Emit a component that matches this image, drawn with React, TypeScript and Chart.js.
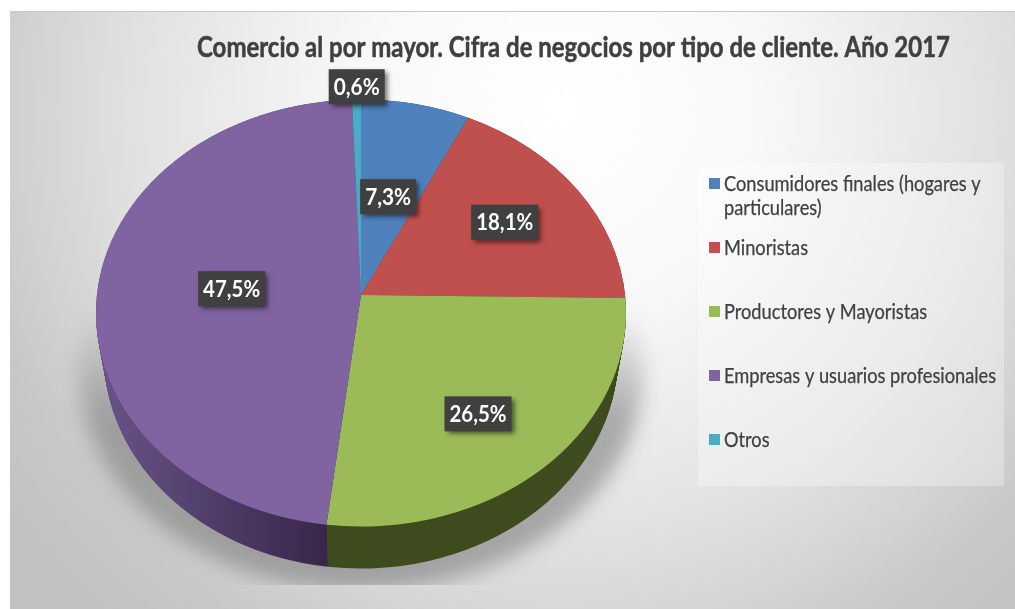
import React, { useEffect, useRef } from "react";
import { Chart, registerables } from "chart.js";

Chart.register(...registerables);

const titleText = "Comercio al por mayor. Cifra de negocios por tipo de cliente. Año 2017";
const categories = [
  "Consumidores finales (hogares y particulares)",
  "Minoristas",
  "Productores y Mayoristas",
  "Empresas y usuarios profesionales",
  "Otros",
];
const legendLines = [
  ["Consumidores finales (hogares y", "particulares)"],
  ["Minoristas"],
  ["Productores y Mayoristas"],
  ["Empresas y usuarios profesionales"],
  ["Otros"],
];
const values = [7.3, 18.1, 26.5, 47.5, 0.6];
const valueLabels = ["7,3%", "18,1%", "26,5%", "47,5%", "0,6%"];
const colors = ["#4F81BD", "#C0504D", "#9BBB59", "#8064A2", "#4BACC6"];
const wallColors = ["#2a4563", "#652b29", "#3f4c1f", "#4a3760", "#28606e"];
const labelFraction = [0.55, 0.66, 0.6, 0.5, 1.06];
const labelNudgeX = [-6, -6, 13, 3, 1];
const labelNudgeY = [-2, -18, 4, -20, 0];

const FONT = "Lato, Carlito, sans-serif";
const squash = 213.5 / 265;
const apexLift = 18;
const wallDepth = 42;
const wallInset = 8;
const perspectiveWarp = (5.5 * Math.PI) / 180;

// foreshortening of the tilted disc: angle on the ellipse for a library arc angle
const warp = (a: number) => a - perspectiveWarp * Math.cos(a);

const scene = {
  id: "scene",
  beforeDraw(chart: any) {
    const { ctx, width, height } = chart;
    ctx.save();
    ctx.fillStyle = "#ffffff";
    ctx.fillRect(0, 0, width, height);
    const g = ctx.createRadialGradient(560, 110, 0, 560, 110, 680);
    g.addColorStop(0, "#ffffff");
    g.addColorStop(0.3, "#f8f8f8");
    g.addColorStop(0.62, "#e2e2e2");
    g.addColorStop(0.75, "#d6d6d6");
    g.addColorStop(0.88, "#c8c8c8");
    g.addColorStop(1, "#c2c2c2");
    ctx.fillStyle = g;
    ctx.fillRect(10, 11, width - 10, height - 11);
    ctx.strokeStyle = "#c9c9c9";
    ctx.lineWidth = 1;
    ctx.beginPath();
    ctx.moveTo(10, 11.5);
    ctx.lineTo(width, 11.5);
    ctx.stroke();
    // legend panel
    ctx.fillStyle = "rgba(255,255,255,0.3)";
    ctx.fillRect(698, 163, 306, 323);
    ctx.restore();
  },
  beforeDatasetsDraw(chart: any) {
    const { ctx } = chart;
    const arcs = chart.getDatasetMeta(0).data;
    const cx = arcs[0].x;
    const cy = arcs[0].y;
    const rx = arcs[0].outerRadius;
    const ry = rx * squash;
    // soft cast shadow
    ctx.save();
    ctx.beginPath();
    ctx.rect(0, 200, 1015, 385);
    ctx.clip();
    const fade = ctx.createLinearGradient(0, 310, 0, 420);
    fade.addColorStop(0, "rgba(125,125,125,0)");
    fade.addColorStop(1, "rgba(125,125,125,0.6)");
    ctx.filter = "blur(10px)";
    ctx.fillStyle = fade;
    ctx.beginPath();
    ctx.ellipse(cx, cy + 58, rx + 17, ry + 6, 0, 0, Math.PI * 2);
    ctx.fill();
    ctx.restore();
    // side wall
    const purpleWall = ctx.createLinearGradient(100, 0, 326, 0);
    purpleWall.addColorStop(0, "#6a5288");
    purpleWall.addColorStop(0.45, "#52406c");
    purpleWall.addColorStop(1, "#38264a");
    ctx.save();
    for (let s = wallDepth; s >= 0; s -= 1) {
      const t = s / wallDepth;
      arcs.forEach((arc: any, i: number) => {
        ctx.fillStyle = i === 3 ? purpleWall : wallColors[i];
        ctx.beginPath();
        ctx.moveTo(cx, cy + s);
        ctx.ellipse(cx, cy + s, rx - wallInset * t, ry, 0, warp(arc.startAngle), warp(arc.endAngle));
        ctx.closePath();
        ctx.fill();
      });
    }
    // top face, with the perspective apex
    arcs.forEach((arc: any) => {
      ctx.fillStyle = arc.options.backgroundColor;
      ctx.beginPath();
      ctx.moveTo(cx, cy - apexLift);
      ctx.ellipse(cx, cy, rx, ry, 0, warp(arc.startAngle), warp(arc.endAngle));
      ctx.closePath();
      ctx.fill();
    });
    ctx.restore();
  },
  beforeDatasetDraw() {
    return false;
  },
  afterDatasetsDraw(chart: any) {
    const { ctx } = chart;
    const arcs = chart.getDatasetMeta(0).data;
    ctx.save();
    // data labels
    ctx.textBaseline = "middle";
    ctx.textAlign = "center";
    ctx.font = `bold 22px ${FONT}`;
    arcs.forEach((arc: any, i: number) => {
      const mid = (arc.startAngle + arc.endAngle) / 2;
      const f = labelFraction[i];
      const x = arc.x + Math.cos(mid) * arc.outerRadius * f + labelNudgeX[i];
      const y = arc.y + Math.sin(mid) * arc.outerRadius * squash * f + labelNudgeY[i];
      const w = valueLabels[i].length === 4 ? 56 : 67;
      ctx.save();
      ctx.shadowColor = "rgba(0,0,0,0.55)";
      ctx.shadowBlur = 5;
      ctx.shadowOffsetX = 3;
      ctx.shadowOffsetY = 3;
      ctx.fillStyle = "#404040";
      ctx.fillRect(x - w / 2, y - 17.5, w, 35);
      ctx.restore();
      ctx.fillStyle = "#ffffff";
      ctx.fillText(valueLabels[i], x, y + 1, w - 10);
    });
    // title
    ctx.textAlign = "left";
    ctx.fillStyle = "#404040";
    ctx.strokeStyle = "#404040";
    ctx.font = `bold 28px ${FONT}`;
    ctx.lineWidth = 0.5;
    ctx.fillText(titleText, 197, 48, 753);
    ctx.strokeText(titleText, 197, 48, 753);
    // legend
    ctx.font = `21px ${FONT}`;
    ctx.lineWidth = 0.25;
    let rowY = 184;
    legendLines.forEach((lines, i) => {
      ctx.fillStyle = colors[i];
      ctx.fillRect(709, rowY - 6, 11, 11);
      ctx.fillStyle = "#404040";
      lines.forEach((line, k) => {
        const w = ctx.measureText(line).width * 0.868;
        ctx.fillText(line, 724, rowY + k * 24, w);
        ctx.strokeText(line, 724, rowY + k * 24, w);
      });
      rowY += 64;
    });
    ctx.restore();
  },
};

export default function App() {
  const ref = useRef<HTMLCanvasElement>(null);
  useEffect(() => {
    const chart = new Chart(ref.current as HTMLCanvasElement, {
      type: "pie",
      data: {
        labels: categories,
        datasets: [{ data: values, backgroundColor: colors, borderWidth: 0 }],
      },
      options: {
        animation: false,
        responsive: false,
        layout: { padding: { left: 96, right: 389, top: 48, bottom: 31 } },
        plugins: {
          legend: { display: false },
          title: { display: false },
          tooltip: { enabled: false },
        },
      },
      plugins: [scene],
    } as any);
    return () => chart.destroy();
  }, []);
  return (
    <div style={{ position: "absolute", left: 0, top: 0, width: 1015, height: 609 }}>
      <canvas ref={ref} width={1015} height={609} style={{ display: "block" }} />
    </div>
  );
}
